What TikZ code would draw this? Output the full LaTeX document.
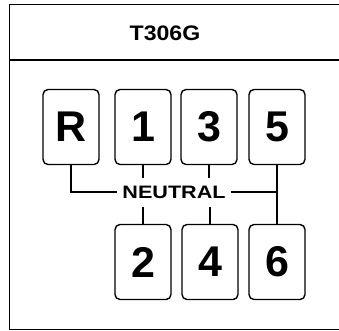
\documentclass[tikz,border=0pt]{standalone}
\usepackage{fontspec}
\setmainfont{Liberation Sans}
\usetikzlibrary{positioning}

\begin{document}
\begin{tikzpicture}[
  x=1pt, y=-1pt,
  gear/.style={draw=black, line width=1.4pt, rounded corners=5pt,
    minimum width=56pt, minimum height=75pt, inner sep=0pt,
    font=\fontsize{43}{43}\selectfont\bfseries},
  lbl/.style={font=\fontsize{18}{18}\selectfont\bfseries, inner sep=4pt,
    xscale=1.2},
  link/.style={draw=black, line width=1.4pt},
]
  \useasboundingbox (0,0) rectangle (339,330);

  % Frame and title bar
  \draw[line width=0.8pt] (339,4.5) -- (9,4.5) -- (9,329.5) -- (339,329.5);
  \draw[line width=2.5pt] (9,60) -- (339,60);
  \node[font=\fontsize{21}{21}\selectfont\bfseries, xscale=1.1] (title)
    at (165,33) {T306G};

  % Gear positions
  \node[gear] (rev)   at (71,127)  {R};
  \node[gear] (one)   at (143,127) {1};
  \node[gear] (three) at (209,127) {3};
  \node[gear] (five)  at (277,127) {5};
  \node[gear] (two)   at (143,262) {2};
  \node[gear] (four)  at (210,262) {4};
  \node[gear] (six)   at (277,262) {6};

  % Neutral line
  \node[lbl] (neutral) at (174,192) {NEUTRAL};
  \draw[link] (rev.south) |- (neutral.west);
  \draw[link] (neutral.east) -- (five.south |- neutral.east);
  \draw[link] (five.south) -- (six.north);
  \draw[link] (one.south) -- ++(0,13);
  \draw[link] (three.south) -- ++(0,13);
  \draw[link] (two.north) -- ++(0,-17);
  \draw[link] (four.north) -- ++(0,-17);
\end{tikzpicture}
\end{document}
